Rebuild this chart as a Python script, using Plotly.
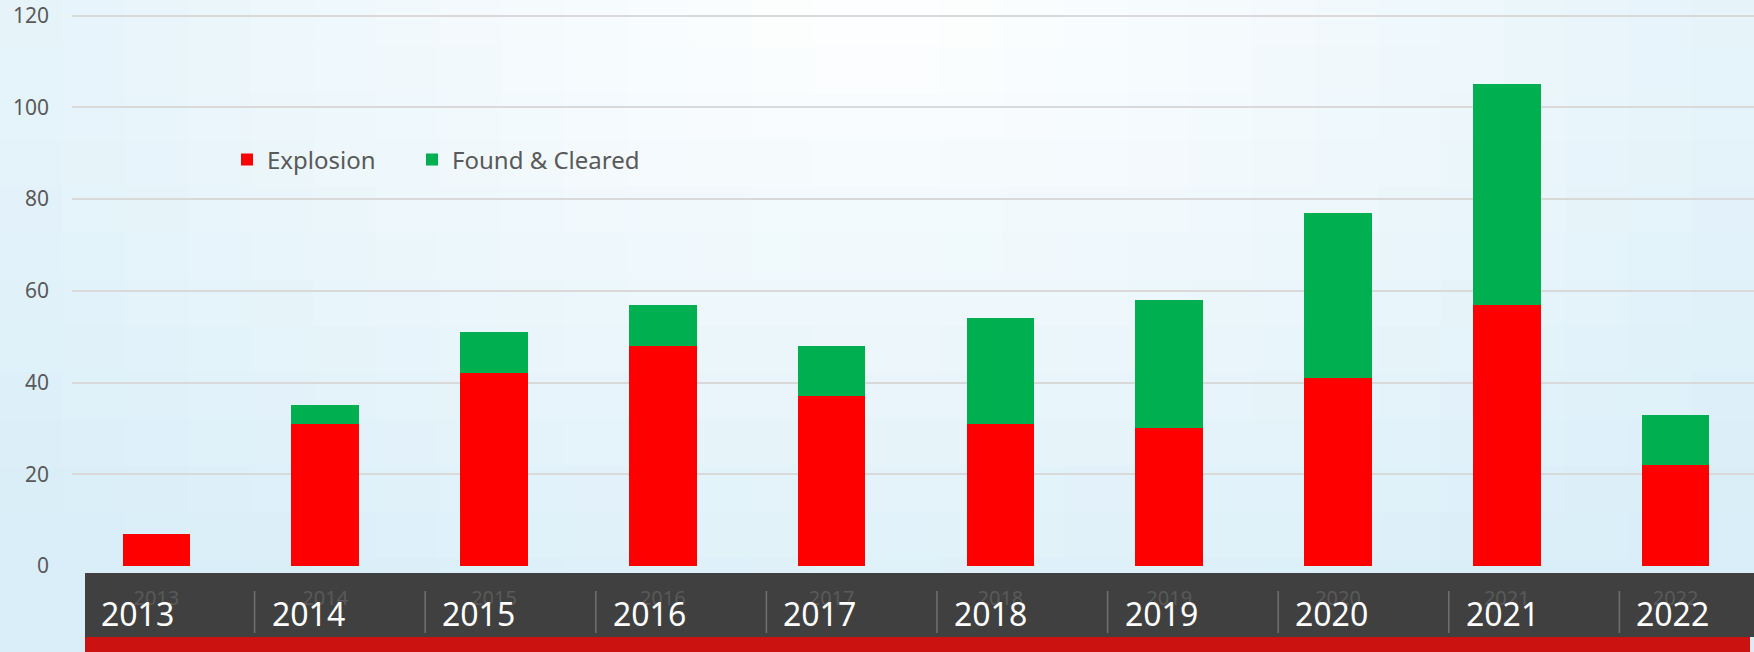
import plotly.graph_objects as go

# data
years = ['2013', '2014', '2015', '2016', '2017', '2018', '2019', '2020', '2021', '2022']
explosion = [7, 31, 42, 48, 37, 31, 30, 41, 57, 22]
found_cleared = [0, 4, 9, 9, 11, 23, 28, 36, 48, 11]
y_ticks = [0, 20, 40, 60, 80, 100, 120]

W, H = 1754, 652
ML, MR, MT, MB = 72, 0, 11, 86
FONT = 'Noto Sans'
GREY = '#595959'


def px_x(x):
    # page pixel -> paper x
    return (x - ML) / (W - ML - MR)


def px_y(y):
    # page pixel (from top) -> paper y
    return (H - MB - y) / (H - MT - MB)


def blend(t):
    c0 = (255, 255, 255)
    c1 = (217, 238, 248)
    return 'rgb(%d,%d,%d)' % tuple(round(a + (b - a) * t) for a, b in zip(c0, c1))


shapes = []

# soft background gradient, white at the top centre
nx, ny = 28, 14
for i in range(nx):
    for j in range(ny):
        x0, x1 = W * i / nx, W * (i + 1) / nx + 1
        y0, y1 = H * j / ny, H * (j + 1) / ny + 1
        cx = (x0 + x1) / 2 / W
        cy = (y0 + y1) / 2 / H
        t = min(1.0, (((cx - 0.5) / 0.72) ** 2 + (cy / 1.05) ** 2) ** 0.5)
        shapes.append(dict(type='rect', xref='paper', yref='paper', layer='below',
                           x0=px_x(x0), x1=px_x(x1), y0=px_y(y1), y1=px_y(y0),
                           fillcolor=blend(t), line=dict(width=0)))

# dark timeline band and red strip under the axis
shapes.append(dict(type='rect', xref='paper', yref='paper', layer='below',
                   x0=px_x(85), x1=px_x(W + 2), y0=px_y(637), y1=px_y(573),
                   fillcolor='#404040', line=dict(width=0)))
shapes.append(dict(type='rect', xref='paper', yref='paper', layer='below',
                   x0=px_x(85), x1=px_x(1750), y0=px_y(H + 2), y1=px_y(637),
                   fillcolor='#CC1111', line=dict(width=0)))

annotations = []
lab_x0, lab_step = 99, 170.6
for i, yr in enumerate(years):
    lx = lab_x0 + lab_step * i
    if i > 0:
        shapes.append(dict(type='line', xref='paper', yref='paper', layer='below',
                           x0=px_x(lx - 15), x1=px_x(lx - 15), y0=px_y(633), y1=px_y(591),
                           line=dict(color='#707070', width=1.5)))
    annotations.append(dict(text=yr, xref='paper', yref='paper', x=px_x(lx), y=px_y(613),
                            xanchor='left', yanchor='middle', showarrow=False,
                            font=dict(family=FONT, size=32, color='white')))

fig = go.Figure()
fig.add_trace(go.Bar(x=years, y=explosion, name='Explosion', legend='legend', showlegend=True,
                     marker=dict(color='#FF0000', line=dict(width=0)), width=0.4))
fig.add_trace(go.Bar(x=years, y=found_cleared, name='Found & Cleared', legend='legend2',
                     showlegend=True,
                     marker=dict(color='#00B050', line=dict(width=0)), width=0.4))

leg = dict(orientation='h', xanchor='left', yanchor='middle', visible=True,
           font=dict(family=FONT, size=24, color=GREY), bgcolor='rgba(0,0,0,0)')

fig.update_layout(
    width=W, height=H,
    margin=dict(l=ML, r=MR, t=MT, b=MB),
    barmode='stack',
    showlegend=True,
    paper_bgcolor='#eef6fb',
    plot_bgcolor='rgba(0,0,0,0)',
    font=dict(family=FONT, color=GREY),
    shapes=shapes,
    annotations=annotations,
    legend=dict(leg, x=px_x(227), y=px_y(160)),
    legend2=dict(leg, x=px_x(412), y=px_y(160)),
)
fig.update_xaxes(range=[-0.5, -0.5 + (W - ML - MR) / 168.8], showgrid=False, showline=False,
                 ticks='', tickfont=dict(size=20, color=GREY), ticklabelstandoff=18)
fig.update_yaxes(range=[0, 121], tickvals=y_ticks, showgrid=True, gridcolor='#D9D9D9',
                 gridwidth=1.5, zeroline=False, showline=False, ticks='',
                 tickfont=dict(size=21, color=GREY), ticklabelstandoff=22)

fig.write_html("out.html", config={'displayModeBar': False},
               post_script="document.body.style.margin='0';")
